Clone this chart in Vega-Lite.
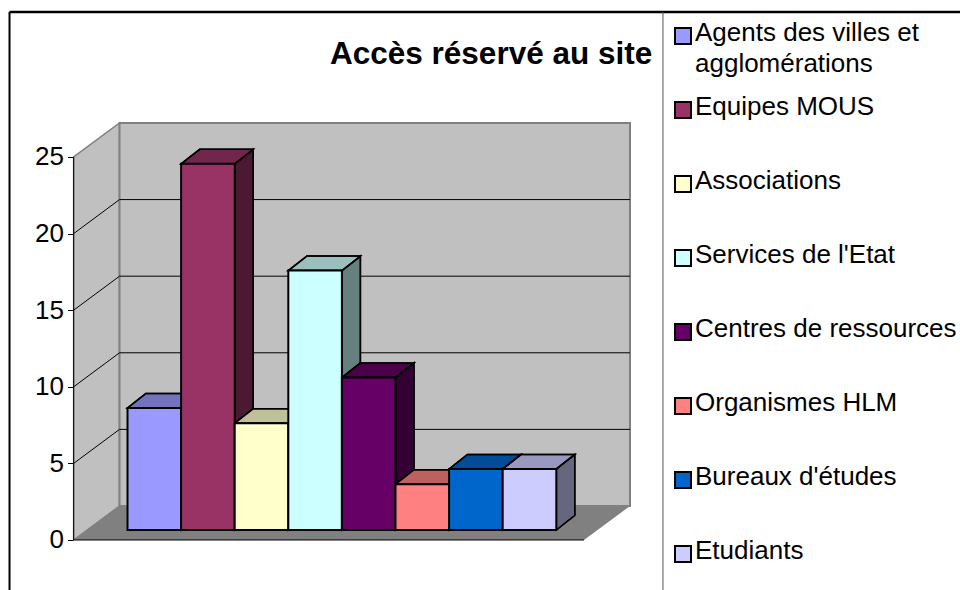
{
"$schema":"https://vega.github.io/schema/vega-lite/v6.json",
"width":960,"height":590,"padding":0,"autosize":{"type":"none"},"background":"white",
"config":{"font":"Liberation Sans","view":{"stroke":null}},
"resolve":{"axis":{"y":"independent"}},
"title":{"text":"Accès réservé au site","anchor":"start","frame":"group","orient":"top","offset":0,"dx":330,"dy":95,"baseline":"alphabetic","fontSize":31.5,"fontWeight":"bold","color":"black","font":"Liberation Sans"},
"data":{"values":[
{"category":"Agents des villes et agglomérations","value":8},
{"category":"Equipes MOUS","value":24},
{"category":"Associations","value":7},
{"category":"Services de l'Etat","value":17},
{"category":"Centres de ressources","value":10},
{"category":"Organismes HLM","value":3},
{"category":"Bureaux d'études","value":4},
{"category":"Etudiants","value":4}
]},
"transform":[{"window":[{"op":"row_number","as":"slot"}]}],
"layer":[
{"data":{"values":[{"depth":0},{"depth":1}]},
 "transform":[{"calculate":"-1.005+0.856*datum.depth","as":"px"},{"calculate":"2.22*datum.depth","as":"low"},{"calculate":"25+2.22*datum.depth","as":"high"}],
 "mark":{"type":"area","fill":"#c0c0c0","stroke":"#808080","strokeWidth":1.5},
 "encoding":{"x":{"field":"px","type":"quantitative","scale":{"domain":[-2.379,15.532],"nice":false,"zero":false},"axis":null},
  "y":{"field":"low","type":"quantitative","scale":{"domain":[-3.264,35.248],"nice":false,"zero":false},"axis":null},"y2":{"field":"high"}}},
{"data":{"values":[{}]},
 "mark":{"type":"rect","fill":"#c0c0c0","stroke":"#808080","strokeWidth":2},
 "encoding":{"x":{"datum":-0.149,"type":"quantitative","scale":{"domain":[-2.379,15.532],"nice":false,"zero":false},"axis":null},"x2":{"datum":9.375},
  "y":{"datum":2.22,"type":"quantitative","scale":{"domain":[-3.264,35.248],"nice":false,"zero":false},"axis":null},"y2":{"datum":27.22}}},
{"data":{"values":[{"tick":5},{"tick":10},{"tick":15},{"tick":20}]},
 "transform":[{"calculate":"[0,1,2]","as":"pt"},{"flatten":["pt"]},{"calculate":"[-1.005,-0.149,9.375][datum.pt]","as":"px"},{"calculate":"datum.tick+(datum.pt>0?2.22:0)","as":"py"}],
 "mark":{"type":"line","stroke":"black","strokeWidth":1},
 "encoding":{"x":{"field":"px","type":"quantitative","scale":{"domain":[-2.379,15.532],"nice":false,"zero":false},"axis":null},
  "y":{"field":"py","type":"quantitative","scale":{"domain":[-3.264,35.248],"nice":false,"zero":false},"axis":null},
  "detail":{"field":"tick"},"order":{"field":"pt"}}},
{"data":{"values":[{"depth":0},{"depth":1}]},
 "transform":[{"calculate":"2.22*datum.depth","as":"py"},{"calculate":"-1.005+0.856*datum.depth","as":"from"},{"calculate":"8.517+0.858*datum.depth","as":"to"}],
 "mark":{"type":"area","orient":"horizontal","fill":"#808080"},
 "encoding":{"y":{"field":"py","type":"quantitative","scale":{"domain":[-3.264,35.248],"nice":false,"zero":false},"axis":null},
  "x":{"field":"from","type":"quantitative","scale":{"domain":[-2.379,15.532],"nice":false,"zero":false},"axis":null},"x2":{"field":"to"}}},
{"data":{"values":[{}]},
 "mark":{"type":"rule","stroke":"black","strokeWidth":1},
 "encoding":{"x":{"datum":-1.005,"type":"quantitative","scale":{"domain":[-2.379,15.532],"nice":false,"zero":false},"axis":null},
  "y":{"datum":0,"type":"quantitative","scale":{"domain":[-3.264,35.248],"nice":false,"zero":false},
   "axis":{"orient":"left","offset":-73.5,"values":[0,5,10,15,20,25],"format":"d","title":null,"domain":false,"grid":false,"ticks":true,"tickSize":6,"tickColor":"black","labelFontSize":26,"labelColor":"black","labelFont":"Liberation Sans","labelPadding":4}},"y2":{"datum":25}}},
{"data":{"values":[{}]},
 "mark":{"type":"rule","stroke":"black","strokeWidth":1},
 "encoding":{"x":{"datum":-1.005,"type":"quantitative","scale":{"domain":[-2.379,15.532],"nice":false,"zero":false},"axis":null},"x2":{"datum":8.517},
  "y":{"datum":0,"type":"quantitative","scale":{"domain":[-3.264,35.248],"nice":false,"zero":false},"axis":null}}},
{"transform":[{"calculate":"[0,1]","as":"depth"},{"flatten":["depth"]},{"calculate":"datum.slot+0.345*datum.depth","as":"px"},{"calculate":"0.653+0.946*datum.depth","as":"low"},{"calculate":"datum.value*0.996+0.653+0.946*datum.depth","as":"high"}],
 "mark":{"type":"area","stroke":"black","strokeWidth":1.5},
 "encoding":{"x":{"field":"px","type":"quantitative","scale":{"domain":[-2.379,15.532],"nice":false,"zero":false},"axis":null},
  "y":{"field":"low","type":"quantitative","scale":{"domain":[-3.264,35.248],"nice":false,"zero":false},"axis":null},"y2":{"field":"high"},
  "color":{"field":"category","type":"nominal","sort":null,"scale":{"domain":["Agents des villes et agglomérations","Equipes MOUS","Associations","Services de l'Etat","Centres de ressources","Organismes HLM","Bureaux d'études","Etudiants"],"range":["#9999FF","#993366","#FFFFCC","#CCFFFF","#660066","#FF8080","#0066CC","#CCCCFF"]}}}},
{"transform":[{"calculate":"[0,1]","as":"depth"},{"flatten":["depth"]},{"calculate":"datum.slot+0.345*datum.depth","as":"px"},{"calculate":"0.653+0.946*datum.depth","as":"low"},{"calculate":"datum.value*0.996+0.653+0.946*datum.depth","as":"high"}],
 "mark":{"type":"area","fill":"black","fillOpacity":0.5,"stroke":"black","strokeWidth":1.5},
 "encoding":{"x":{"field":"px","type":"quantitative","scale":{"domain":[-2.379,15.532],"nice":false,"zero":false},"axis":null},
  "y":{"field":"low","type":"quantitative","scale":{"domain":[-3.264,35.248],"nice":false,"zero":false},"axis":null},"y2":{"field":"high"},
  "detail":{"field":"category"}}},
{"transform":[{"calculate":"[0,1]","as":"depth"},{"flatten":["depth"]},{"calculate":"datum.slot-1+0.345*datum.depth","as":"from"},{"calculate":"datum.slot+0.345*datum.depth","as":"to"},{"calculate":"datum.value*0.996+0.653+0.946*datum.depth","as":"py"}],
 "mark":{"type":"area","orient":"horizontal","stroke":"black","strokeWidth":1.5},
 "encoding":{"y":{"field":"py","type":"quantitative","scale":{"domain":[-3.264,35.248],"nice":false,"zero":false},"axis":null},
  "x":{"field":"from","type":"quantitative","scale":{"domain":[-2.379,15.532],"nice":false,"zero":false},"axis":null},"x2":{"field":"to"},
  "color":{"field":"category","type":"nominal","sort":null}}},
{"transform":[{"calculate":"[0,1]","as":"depth"},{"flatten":["depth"]},{"calculate":"datum.slot-1+0.345*datum.depth","as":"from"},{"calculate":"datum.slot+0.345*datum.depth","as":"to"},{"calculate":"datum.value*0.996+0.653+0.946*datum.depth","as":"py"}],
 "mark":{"type":"area","orient":"horizontal","fill":"black","fillOpacity":0.25,"stroke":"black","strokeWidth":1.5},
 "encoding":{"y":{"field":"py","type":"quantitative","scale":{"domain":[-3.264,35.248],"nice":false,"zero":false},"axis":null},
  "x":{"field":"from","type":"quantitative","scale":{"domain":[-2.379,15.532],"nice":false,"zero":false},"axis":null},"x2":{"field":"to"},
  "detail":{"field":"category"}}},
{"transform":[{"calculate":"datum.slot-1","as":"left"},{"calculate":"datum.value*0.996+0.653","as":"top"},{"calculate":"0.653","as":"base"}],
 "mark":{"type":"rect","stroke":"black","strokeWidth":2},
 "encoding":{"x":{"field":"left","type":"quantitative","scale":{"domain":[-2.379,15.532],"nice":false,"zero":false},"axis":null},"x2":{"field":"slot"},
  "y":{"field":"top","type":"quantitative","scale":{"domain":[-3.264,35.248],"nice":false,"zero":false},"axis":null},"y2":{"field":"base"},
  "color":{"field":"category","type":"nominal","sort":null,
   "legend":{"orient":"none","legendX":670,"legendY":23,"title":null,"symbolType":"square","symbolSize":256,"symbolStrokeColor":"black","symbolStrokeWidth":2,"symbolOpacity":1,"labelFontSize":26,"labelFont":"Liberation Sans","labelColor":"black","labelLimit":300,"labelOffset":-1,"rowPadding":17,"gridAlign":"all","columns":1,
    "labelExpr":"datum.label=='Agents des villes et agglomérations'?['Agents des villes et','agglomérations']:datum.label",
    "encoding":{"labels":{"dy":{"value":-3},"lineHeight":{"value":31}}}}}}},
{"data":{"values":[{}]},
 "mark":{"type":"rule","stroke":"black","strokeWidth":2.5},
 "encoding":{"x":{"datum":-2.2015,"type":"quantitative","scale":{"domain":[-2.379,15.532],"nice":false,"zero":false},"axis":null},"x2":{"datum":15.532},
  "y":{"datum":34.46,"type":"quantitative","scale":{"domain":[-3.264,35.248],"nice":false,"zero":false},"axis":null}}},
{"data":{"values":[{}]},
 "mark":{"type":"rule","stroke":"black","strokeWidth":2},
 "encoding":{"x":{"datum":-2.2015,"type":"quantitative","scale":{"domain":[-2.379,15.532],"nice":false,"zero":false},"axis":null},
  "y":{"datum":34.46,"type":"quantitative","scale":{"domain":[-3.264,35.248],"nice":false,"zero":false},"axis":null},"y2":{"datum":-3.264}}},
{"data":{"values":[{}]},
 "mark":{"type":"rule","stroke":"#555555","strokeWidth":1},
 "encoding":{"x":{"datum":9.99,"type":"quantitative","scale":{"domain":[-2.379,15.532],"nice":false,"zero":false},"axis":null},
  "y":{"datum":34.46,"type":"quantitative","scale":{"domain":[-3.264,35.248],"nice":false,"zero":false},"axis":null},"y2":{"datum":-3.264}}}
]
}
